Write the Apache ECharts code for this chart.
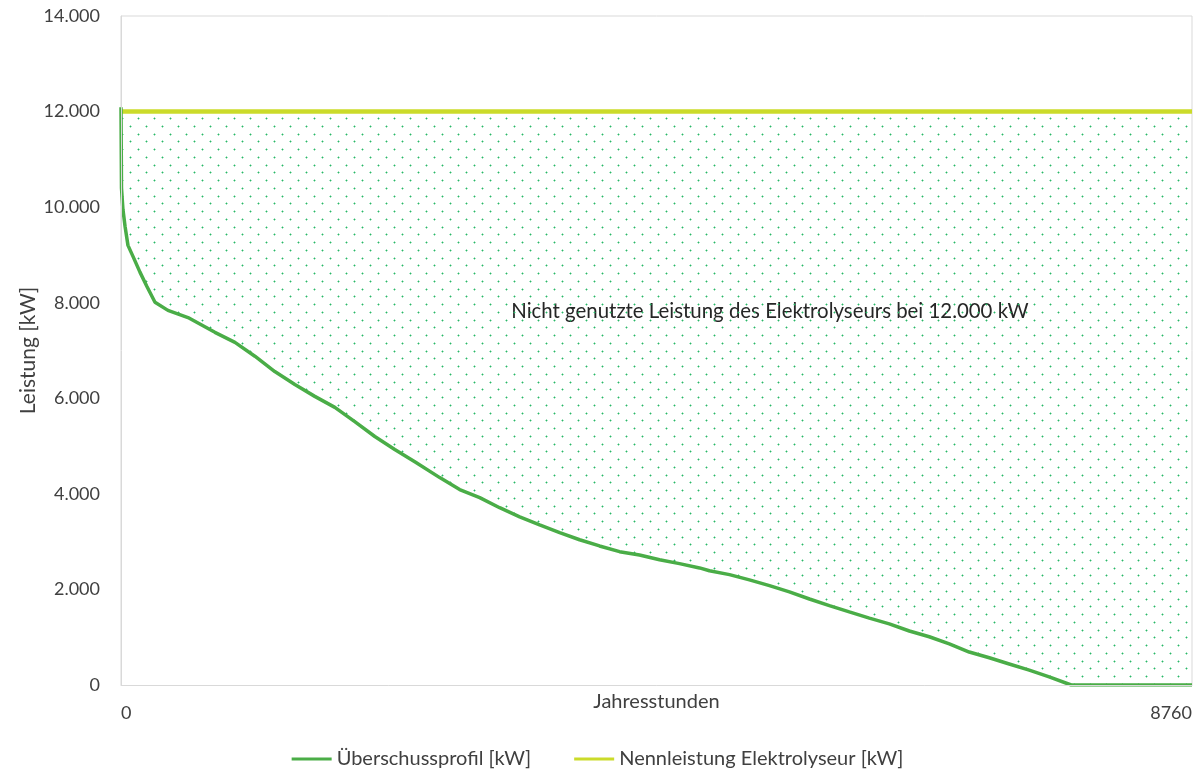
<!DOCTYPE html>
<html>
<head>
<meta charset="utf-8">
<script src="https://cdn.jsdelivr.net/npm/echarts@6/dist/echarts.min.js"></script>
<style>
  html, body { margin: 0; padding: 0; background: #ffffff; }
  #chart { width: 1195px; height: 770px; }
</style>
</head>
<body>
<div id="chart"></div>
<script>
// Sorted annual surplus power (duration curve) and electrolyser rating
const hours = [0, 4, 16, 33, 57, 98, 155, 212, 278, 384,
  548, 768, 932, 1095, 1258, 1422, 1585, 1749, 1912, 2076,
  2239, 2403, 2607, 2770, 2934, 3097, 3261, 3424, 3588, 3751,
  3914, 4078, 4241, 4405, 4568, 4732, 4813, 4977, 5140, 5304,
  5467, 5631, 5794, 5957, 6121, 6284, 6448, 6611, 6775, 6938,
  7102, 7265, 7429, 7592, 7772, 8760];
const surplusKW = [12090, 10400, 9950, 9600, 9200, 8970, 8640, 8340, 8010, 7840,
  7690, 7380, 7170, 6880, 6560, 6290, 6040, 5810, 5510, 5200,
  4930, 4670, 4340, 4090, 3920, 3710, 3520, 3350, 3190, 3040,
  2910, 2790, 2720, 2620, 2540, 2450, 2390, 2310, 2200, 2080,
  1950, 1800, 1660, 1530, 1400, 1280, 1130, 1010, 860, 690,
  570, 440, 310, 170, 0, 0];
const ratedKW = 12000;
const hoursPerYear = 8760;

const seriesNames = ['Überschussprofil [kW]', 'Nennleistung Elektrolyseur [kW]'];
const xTitle = 'Jahresstunden';
const yTitle = 'Leistung [kW]';
const note = 'Nicht genutzte Leistung des Elektrolyseurs bei 12.000 kW';

const FONT = 'Lato, "Open Sans", sans-serif';
const GREEN = '#4aad47';
const YELLOW = '#cbdb2a';
const TEXT = '#404040';

// dotted fill for the unused capacity area (staggered dot grid)
function dotPattern() {
  const c = document.createElement('canvas');
  c.width = 16; c.height = 31;
  const g = c.getContext('2d');
  [[2, 2], [10, 10], [2, 17], [10, 25]].forEach(([x, y]) => {
    g.fillStyle = 'rgba(48,190,110,0.45)';
    g.fillRect(x - 1, y, 3, 1);
    g.fillRect(x, y - 1, 1, 3);
    g.fillStyle = '#2ab566';
    g.fillRect(x, y, 1, 1);
  });
  return c;
}

const fmtDE = v => String(v).replace(/\B(?=(\d{3})+(?!\d))/g, '.');

const surplusData = hours.map((h, i) => [h, surplusKW[i]]);
const ratedData = [[0, ratedKW], [hoursPerYear, ratedKW]];

const chart = echarts.init(document.getElementById('chart'), null, { renderer: 'canvas' });
chart.setOption({
  animation: false,
  backgroundColor: '#ffffff',
  textStyle: { fontFamily: FONT },
  grid: {
    left: 121, right: 2, top: 16, bottom: 85,
    show: true, borderColor: '#d9d9d9', borderWidth: 1
  },
  legend: {
    data: seriesNames,
    top: 749,
    left: 'center',
    padding: 0,
    icon: 'rect',
    itemWidth: 40,
    itemHeight: 3,
    itemGap: 43,
    textStyle: { color: TEXT, fontSize: 20, fontFamily: FONT },
    selectedMode: false
  },
  xAxis: {
    type: 'value',
    min: 0, max: hoursPerYear, interval: hoursPerYear,
    z: 10,
    axisLine: { show: true, lineStyle: { color: '#d9d9d9', width: 1 } },
    axisTick: { show: false },
    splitLine: { show: false },
    axisLabel: {
      color: TEXT, fontSize: 18, fontFamily: FONT, margin: 19,
      alignMinLabel: 'left', alignMaxLabel: 'right',
      formatter: v => String(v)
    },
    name: xTitle,
    nameLocation: 'middle',
    nameGap: 7,
    nameMoveOverlap: false,
    nameTextStyle: { color: TEXT, fontSize: 20, fontFamily: FONT }
  },
  yAxis: {
    type: 'value',
    min: 0, max: 14000, interval: 2000,
    z: 10,
    axisLine: { show: true, lineStyle: { color: '#d9d9d9', width: 1 } },
    axisTick: { show: false },
    splitLine: { show: false },
    axisLabel: {
      color: TEXT, fontSize: 18, fontFamily: FONT, margin: 21,
      formatter: fmtDE
    },
    name: yTitle,
    nameLocation: 'middle',
    nameGap: 82,
    nameMoveOverlap: false,
    nameTextStyle: { color: TEXT, fontSize: 21, fontFamily: FONT }
  },
  series: [
    {
      name: seriesNames[1],
      type: 'line',
      data: ratedData,
      showSymbol: false,
      silent: true,
      z: 2,
      itemStyle: { color: YELLOW },
      lineStyle: { color: YELLOW, width: 4.5 },
      areaStyle: { color: { image: dotPattern(), repeat: 'repeat' }, opacity: 1 }
    },
    {
      name: seriesNames[0],
      type: 'line',
      data: surplusData,
      showSymbol: false,
      silent: true,
      z: 3,
      itemStyle: { color: GREEN },
      lineStyle: { color: GREEN, width: 3.5 },
      areaStyle: { color: '#ffffff', opacity: 1 }
    }
  ],
  graphic: [{
    type: 'text',
    x: 770, y: 311,
    silent: true,
    style: {
      text: note,
      fill: '#262626',
      fontSize: 20.4,
      fontFamily: FONT,
      align: 'center',
      verticalAlign: 'middle'
    }
  }]
});
</script>
</body>
</html>
